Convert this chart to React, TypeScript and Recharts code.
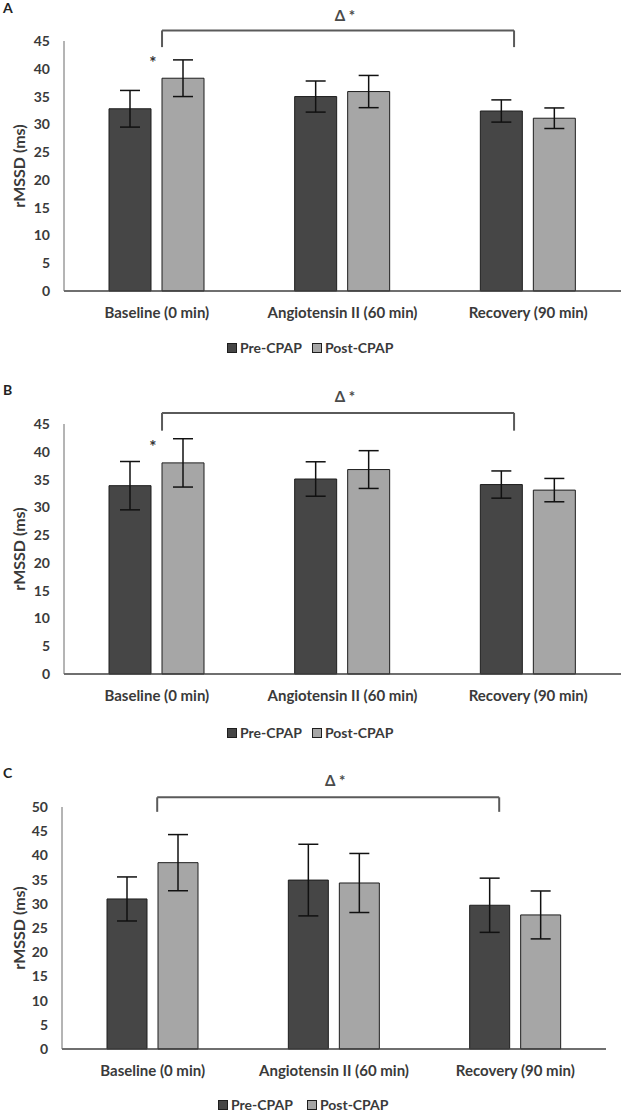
import React from 'react';
import {
  BarChart,
  Bar,
  XAxis,
  YAxis,
  ErrorBar,
  Legend,
  ReferenceLine,
  ReferenceDot,
  Label,
} from 'recharts';

const FONT = 'Lato, "Open Sans", sans-serif';

// ---------- data ----------
const categories = ['Baseline (0 min)', 'Angiotensin II (60 min)', 'Recovery (90 min)'];
const seriesNames = ['Pre-CPAP', 'Post-CPAP'];

const aPre = [32.8, 35.0, 32.4];
const aPreErr = [3.3, 2.8, 2.0];
const aPost = [38.3, 35.9, 31.1];
const aPostErr = [3.3, 2.9, 1.85];

const bPre = [33.9, 35.1, 34.1];
const bPreErr = [4.35, 3.1, 2.45];
const bPost = [38.0, 36.8, 33.1];
const bPostErr = [4.35, 3.4, 2.1];

const cPre = [31.0, 34.9, 29.7];
const cPreErr = [4.55, 7.4, 5.6];
const cPost = [38.5, 34.3, 27.7];
const cPostErr = [5.8, 6.1, 4.95];

const ticks45 = [0, 5, 10, 15, 20, 25, 30, 35, 40, 45];
const ticks50 = [0, 5, 10, 15, 20, 25, 30, 35, 40, 45, 50];

const buildRows = (pre: number[], preErr: number[], post: number[], postErr: number[]) =>
  categories.map((name, i) => ({
    name,
    pos: i + 0.5,
    pre: pre[i],
    preErr: preErr[i],
    post: post[i],
    postErr: postErr[i],
  }));

const COLORS = { pre: '#464646', post: '#a6a6a6', stroke: '#1e1e1e', text: '#3a3a3a', bracket: '#5a5a5a' };
const seriesColors = [COLORS.pre, COLORS.post];

type PanelProps = {
  letter: string;
  top: number;
  height: number;
  rows: any[];
  yMax: number;
  yTicks: number[];
  margin: { top: number; right: number; bottom: number; left: number };
  yAxisWidth: number;
  barSize: number;
  barGap: number;
  tickMargin: number;
  bracket: { x1: number; x2: number; yTop: number; yArm: number };
  delta: { x: number; y: number };
  star?: { x: number; y: number };
  legend: { top: number; left: number; gap: number };
  letterTop: number;
};

const yLabel = (props: any) => {
  const vb = props.viewBox || { x: 0, y: 0, width: 0, height: 0 };
  const cx = 18;
  const cy = vb.y + vb.height / 2;
  return (
    <text
      transform={`translate(${cx}, ${cy}) rotate(-90)`}
      textAnchor="middle"
      dominantBaseline="central"
      fontFamily={FONT}
      fontSize={16}
      fontWeight={700}
      fill={COLORS.text}
    >
      rMSSD (ms)
    </text>
  );
};

function Panel(p: PanelProps) {
  const legendContent = () => (
    <div style={{ display: 'flex', alignItems: 'center', fontFamily: FONT, fontSize: 14, fontWeight: 700, color: COLORS.text, whiteSpace: 'nowrap' }}>
      {seriesNames.map((name, i) => (
        <span key={name} style={{ display: 'inline-flex', alignItems: 'center', marginRight: i === 0 ? p.legend.gap : 0 }}>
          <span style={{ display: 'inline-block', width: 8, height: 8, background: seriesColors[i], border: `1px solid ${COLORS.stroke}`, marginRight: 3 }} />
          {name}
        </span>
      ))}
    </div>
  );

  const b = p.bracket;
  const lineProps = { xAxisId: 'n', stroke: COLORS.bracket, strokeWidth: 2, ifOverflow: 'visible' as const };

  return (
    <div style={{ position: 'absolute', left: 0, top: p.top, width: 622, height: p.height }}>
      <div style={{ position: 'absolute', left: 3, top: p.letterTop - p.top, fontFamily: FONT, fontSize: 14, fontWeight: 700, lineHeight: '14px', color: '#222' }}>
        {p.letter}
      </div>
      <BarChart width={622} height={p.height} data={p.rows} margin={p.margin} barGap={p.barGap}>
        <XAxis
          dataKey="name"
          tickLine={false}
          axisLine={{ stroke: '#3f3f3f', strokeWidth: 1.5 }}
          tickMargin={p.tickMargin}
          interval={0}
          tick={{ fontFamily: FONT, fontSize: 15, fontWeight: 700, fill: COLORS.text }}
        />
        <XAxis
          xAxisId="n"
          dataKey="pos"
          type="number"
          scale="linear"
          domain={[0, 3]}
          ticks={[0, 1, 2, 3]}
          tickCount={4}
          hide
        />
        <YAxis
          width={p.yAxisWidth}
          domain={[0, p.yMax]}
          ticks={p.yTicks}
          interval={0}
          tickLine={false}
          tickMargin={8}
          axisLine={{ stroke: '#6a6a6a', strokeWidth: 1 }}
          tick={{ fontFamily: FONT, fontSize: 14, fontWeight: 700, fill: COLORS.text }}
        >
          <Label content={yLabel} />
        </YAxis>
        <Legend
          layout="horizontal"
          verticalAlign="middle"
          align="center"
          content={legendContent}
          wrapperStyle={{ top: p.legend.top, left: p.legend.left, width: 'auto', height: 18 }}
        />
        <Bar dataKey="pre" name={seriesNames[0]} fill={COLORS.pre} stroke={COLORS.stroke} strokeWidth={1} barSize={p.barSize} isAnimationActive={false}>
          <ErrorBar dataKey="preErr" width={10} stroke="#111" strokeWidth={1.5} direction="y" />
        </Bar>
        <Bar dataKey="post" name={seriesNames[1]} fill={COLORS.post} stroke={COLORS.stroke} strokeWidth={1} barSize={p.barSize} isAnimationActive={false}>
          <ErrorBar dataKey="postErr" width={10} stroke="#111" strokeWidth={1.5} direction="y" />
        </Bar>
        <ReferenceLine {...lineProps} segment={[{ x: b.x1, y: b.yArm }, { x: b.x1, y: b.yTop }]} />
        <ReferenceLine {...lineProps} segment={[{ x: b.x1, y: b.yTop }, { x: b.x2, y: b.yTop }]} />
        <ReferenceLine {...lineProps} segment={[{ x: b.x2, y: b.yTop }, { x: b.x2, y: b.yArm }]} />
        <ReferenceDot
          xAxisId="n"
          x={p.delta.x}
          y={p.delta.y}
          r={0}
          fill="none"
          stroke="none"
          ifOverflow="visible"
          label={{ value: 'Δ *', position: 'center', fill: '#4a4a4a', fontFamily: FONT, fontSize: 15, fontWeight: 700 }}
        />
        {p.star ? (
          <ReferenceDot
            xAxisId="n"
            x={p.star.x}
            y={p.star.y}
            r={0}
            fill="none"
            stroke="none"
            ifOverflow="visible"
            label={{ value: '*', position: 'center', fill: '#333333', fontFamily: FONT, fontSize: 17, fontWeight: 700 }}
          />
        ) : null}
      </BarChart>
    </div>
  );
}

const rowsA = buildRows(aPre, aPreErr, aPost, aPostErr);
const rowsB = buildRows(bPre, bPreErr, bPost, bPostErr);
const rowsC = buildRows(cPre, cPreErr, cPost, cPostErr);

export default function App() {
  return (
    <div style={{ position: 'absolute', left: 0, top: 0, width: 622, height: 1112, background: '#fff', overflow: 'hidden' }}>
      <Panel
        letter="A"
        letterTop={1}
        top={0}
        height={365}
        rows={rowsA}
        yMax={45}
        yTicks={ticks45}
        margin={{ top: 41, right: 1, bottom: 44, left: 0 }}
        yAxisWidth={64}
        barSize={42}
        barGap={11}
        tickMargin={10}
        bracket={{ x1: 0.528, x2: 2.424, yTop: 46.9, yArm: 43.9 }}
        delta={{ x: 1.513, y: 49.6 }}
        star={{ x: 0.479, y: 41.0 }}
        legend={{ top: 339, left: 227, gap: 10 }}
      />
      <Panel
        letter="B"
        letterTop={383}
        top={370}
        height={365}
        rows={rowsB}
        yMax={45}
        yTicks={ticks45}
        margin={{ top: 54, right: 1, bottom: 31, left: 0 }}
        yAxisWidth={64}
        barSize={42}
        barGap={11}
        tickMargin={10}
        bracket={{ x1: 0.528, x2: 2.424, yTop: 47.0, yArm: 43.8 }}
        delta={{ x: 1.513, y: 49.9 }}
        star={{ x: 0.479, y: 40.9 }}
        legend={{ top: 354, left: 227, gap: 10 }}
      />
      <Panel
        letter="C"
        letterTop={766}
        top={745}
        height={367}
        rows={rowsC}
        yMax={50}
        yTicks={ticks50}
        margin={{ top: 62, right: 16, bottom: 33, left: 0 }}
        yAxisWidth={62}
        barSize={40}
        barGap={11}
        tickMargin={10}
        bracket={{ x1: 0.525, x2: 2.411, yTop: 52.0, yArm: 49.0 }}
        delta={{ x: 1.507, y: 55.5 }}
        legend={{ top: 351, left: 218, gap: 14 }}
      />
    </div>
  );
}
